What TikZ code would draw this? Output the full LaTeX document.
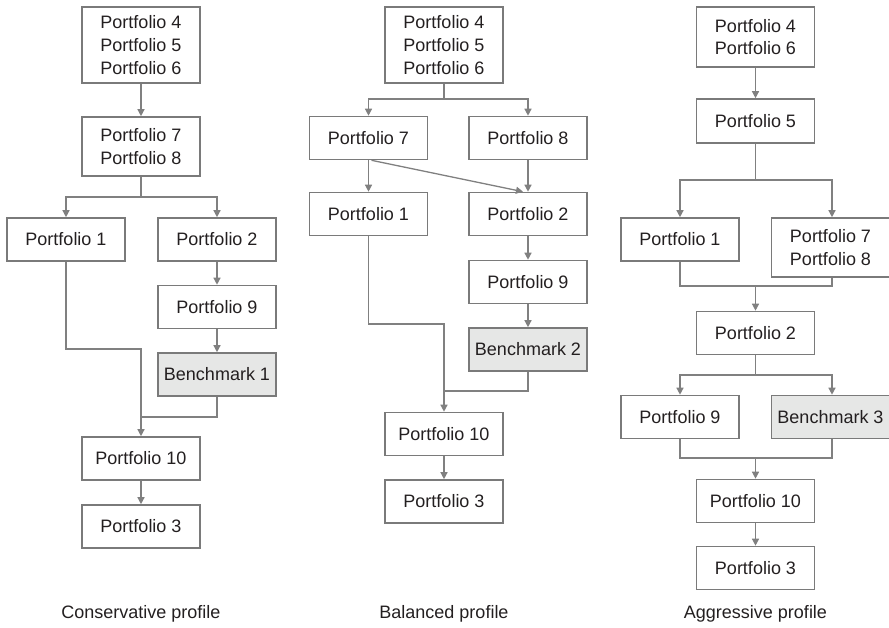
\documentclass[tikz,border=0pt]{standalone}
\usepackage{fontspec}
\setmainfont{Liberation Sans}
\usetikzlibrary{arrows.meta}
\definecolor{lc}{HTML}{808080}
\definecolor{bc}{HTML}{7A7A7A}
\definecolor{tc}{HTML}{231F20}
\definecolor{bf}{HTML}{E6E7E6}
\begin{document}
\begin{tikzpicture}[x=1pt,y=-1pt,
  pbox/.style={draw=bc, line width=1.6pt, minimum width=118pt, minimum height=43pt,
    align=center, inner sep=0pt, text=tc, font=\fontsize{18}{22.7}\selectfont},
  bench/.style={pbox, fill=bf},
  arr/.style={draw=lc, line width=1.3pt, -{Triangle[width=7pt,length=7pt]}},
  ln/.style={draw=lc, line width=1.3pt},
  captext/.style={text=tc, font=\fontsize{18}{22}\selectfont}]
\useasboundingbox (0,0) rectangle (889,627);

% ---------- Conservative ----------
\node[pbox, minimum height=76pt] (c456) at (141,45) {Portfolio 4\\Portfolio 5\\Portfolio 6};
\node[pbox, minimum height=59pt] (c78) at (141,146.5) {Portfolio 7\\Portfolio 8};
\node[pbox] (c1) at (66,239.5) {Portfolio 1};
\node[pbox] (c2) at (217,239.5) {Portfolio 2};
\node[pbox] (c9) at (217,307) {Portfolio 9};
\node[bench] (cb) at (217,374.5) {Benchmark 1};
\node[pbox] (c10) at (141,458.5) {Portfolio 10};
\node[pbox] (c3) at (141,526.5) {Portfolio 3};
\node[captext] (ccap) at (141,614) {Conservative profile};
\coordinate (cj) at (141,197);
\coordinate (ct) at (66,349);
\coordinate (cm) at (141,417);
\draw[arr] (c456.south) -- (c78.north);
\draw[arr] (c78.south) -- (cj) -| (c1.north);
\draw[arr] (cj) -| (c2.north);
\draw[arr] (c2.south) -- (c9.north);
\draw[arr] (c9.south) -- (cb.north);
\draw[arr] (c1.south) -- (ct) -| (c10.north);
\draw[ln] (cb.south) |- (cm);
\draw[arr] (c10.south) -- (c3.north);

% ---------- Balanced ----------
\node[pbox, minimum height=76pt] (b456) at (444,45) {Portfolio 4\\Portfolio 5\\Portfolio 6};
\node[pbox] (b7) at (368.5,138) {Portfolio 7};
\node[pbox] (b8) at (528,138) {Portfolio 8};
\node[pbox] (b1) at (368.5,214) {Portfolio 1};
\node[pbox] (b2) at (528,214) {Portfolio 2};
\node[pbox] (b9) at (528,282) {Portfolio 9};
\node[bench] (bb) at (528,349.5) {Benchmark 2};
\node[pbox] (b10) at (444,434) {Portfolio 10};
\node[pbox] (b3) at (444,501.5) {Portfolio 3};
\node[captext] (bcap) at (444,614) {Balanced profile};
\coordinate (bj) at (444,99);
\coordinate (bt) at (368.5,324);
\coordinate (bm) at (444,391);
\draw[arr] (b456.south) -- (bj) -| (b7.north);
\draw[arr] (bj) -| (b8.north);
\draw[arr] (b7.south) -- (b1.north);
\draw[arr] ([xshift=3pt]b7.south) -- ([xshift=-5pt]b2.north);
\draw[arr] (b8.south) -- (b2.north);
\draw[arr] (b2.south) -- (b9.north);
\draw[arr] (b9.south) -- (bb.north);
\draw[arr] (b1.south) -- (bt) -| (b10.north);
\draw[ln] (bb.south) |- (bm);
\draw[arr] (b10.south) -- (b3.north);

% ---------- Aggressive ----------
\node[pbox, minimum height=60pt] (a46) at (755.5,37) {Portfolio 4\\Portfolio 6};
\node[pbox, minimum height=44pt] (a5) at (755.5,121) {Portfolio 5};
\node[pbox] (a1) at (680,239.5) {Portfolio 1};
\node[pbox, minimum height=59pt] (a78) at (830.5,247.5) {Portfolio 7\\Portfolio 8};
\node[pbox] (a2) at (755.5,333) {Portfolio 2};
\node[pbox] (a9) at (680,417) {Portfolio 9};
\node[bench] (ab) at (830.5,417) {Benchmark 3};
\node[pbox] (a10) at (755.5,501) {Portfolio 10};
\node[pbox] (a3) at (755.5,568) {Portfolio 3};
\node[captext] (acap) at (755.5,614) {Aggressive profile};
\coordinate (aj1) at (755.5,180);
\coordinate (am1) at (755.5,286);
\coordinate (aj2) at (755.5,375);
\coordinate (am2) at (755.5,458);
\draw[arr] (a46.south) -- (a5.north);
\draw[arr] (a5.south) -- (aj1) -| (a1.north);
\draw[arr] (aj1) -| ([xshift=1.5pt]a78.north);
\draw[ln] (a1.south) |- (am1);
\draw[ln] ([xshift=1.5pt]a78.south) |- (am1);
\draw[arr] (am1) -- (a2.north);
\draw[arr] (a2.south) -- (aj2) -| (a9.north);
\draw[arr] (aj2) -| ([xshift=1.5pt]ab.north);
\draw[ln] (a9.south) |- (am2);
\draw[ln] ([xshift=1.5pt]ab.south) |- (am2);
\draw[arr] (am2) -- (a10.north);
\draw[arr] (a10.south) -- (a3.north);
\end{tikzpicture}
\end{document}
